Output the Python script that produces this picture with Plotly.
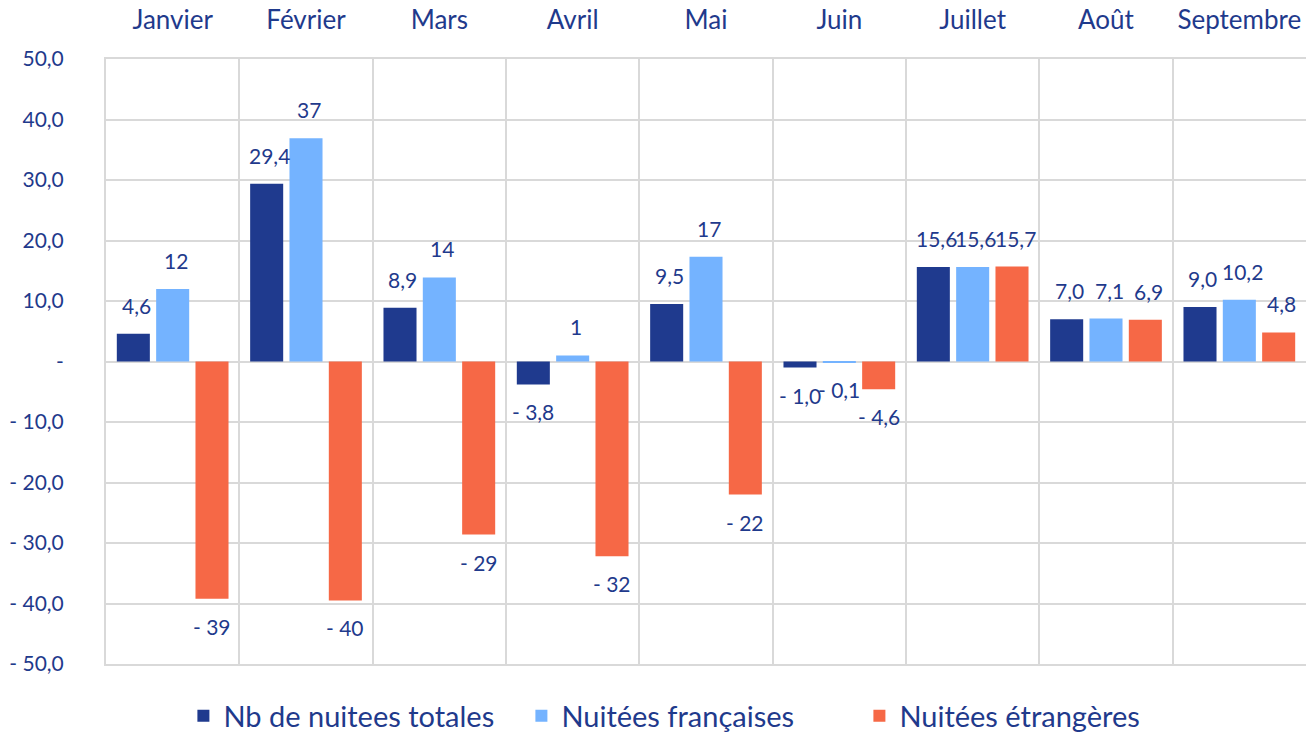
import plotly.graph_objects as go

months = ["Janvier", "Février", "Mars", "Avril", "Mai", "Juin", "Juillet", "Août", "Septembre"]

totales = [4.6, 29.4, 8.9, -3.8, 9.5, -1.0, 15.6, 7.0, 9.0]
totales_lbl = ["4,6", "29,4", "8,9", "- 3,8", "9,5", "- 1,0", "15,6", "7,0", "9,0"]

francaises = [12.0, 36.9, 13.9, 1.0, 17.3, -0.1, 15.6, 7.1, 10.2]
francaises_lbl = ["12", "37", "14", "1", "17", "- 0,1", "15,6", "7,1", "10,2"]

etrangeres = [-39.2, -39.5, -28.6, -32.2, -22.0, -4.6, 15.7, 6.9, 4.8]
etrangeres_lbl = ["- 39", "- 40", "- 29", "- 32", "- 22", "- 4,6", "15,7", "6,9", "4,8"]

y_ticks = [50, 40, 30, 20, 10, 0, -10, -20, -30, -40, -50]
y_ticktext = ["50,0", "40,0", "30,0", "20,0", "10,0", "-", "- 10,0", "- 20,0", "- 30,0", "- 40,0", "- 50,0"]

TXT = "#1F3A8C"
FONT = "Lato"
GRID = "#D9D9D9"

W, H = 1306, 734
ML, MR, MT, MB = 106, 0, 59, 70
BARGAP, BARGROUPGAP = 0.115, 0.16

series = [
    ("Nb de nuitees totales", totales, totales_lbl, "#1F3A8E"),
    ("Nuitées françaises", francaises, francaises_lbl, "#74B3FF"),
    ("Nuitées étrangères", etrangeres, etrangeres_lbl, "#F66846"),
]

fig = go.Figure()
for name, vals, lbls, col in series:
    fig.add_trace(go.Bar(
        x=months, y=vals, name=name,
        marker=dict(color=col, line=dict(width=0)),
        hovertext=lbls, hoverinfo="x+text+name",
    ))

# data labels placed through axis coordinates, shifted to each bar's slot
cat_px = (W - ML - MR) / len(months)
slot_px = cat_px * (1 - BARGAP) / len(series)
for i, (name, vals, lbls, col) in enumerate(series):
    dx = (i - (len(series) - 1) / 2) * slot_px
    for m, v, t in zip(months, vals, lbls):
        pos = v >= 0
        fig.add_annotation(
            x=m, y=v, text=t, showarrow=False,
            xshift=dx + (3 if pos else 0), yshift=14 if pos else -13,
            yanchor="bottom" if pos else "top", xanchor="center",
            font=dict(family=FONT, size=21, color=TXT),
        )

fig.update_layout(
    width=W, height=H,
    margin=dict(l=ML, r=MR, t=MT, b=MB),
    paper_bgcolor="white", plot_bgcolor="white",
    barmode="group", bargap=BARGAP, bargroupgap=BARGROUPGAP,
    hovermode=False,
    font=dict(family=FONT, color=TXT),
    showlegend=True,
    legend=dict(orientation="h", x=0.487, xanchor="center",
                yref="container", y=0.0245, yanchor="middle",
                font=dict(family=FONT, size=29, color=TXT),
                itemwidth=30, tracegroupgap=0,
                entrywidth=293, entrywidthmode="pixels"),
    xaxis=dict(side="top", type="category", tickson="boundaries", automargin=False,
               showgrid=True, gridcolor=GRID, gridwidth=2,
               showline=True, mirror=True, linecolor=GRID, linewidth=2,
               ticks="", ticklabelstandoff=18,
               tickfont=dict(family=FONT, size=26, color=TXT),
               range=[-0.5, 8.5], zeroline=False),
    yaxis=dict(range=[-50, 50], tickvals=y_ticks, ticktext=y_ticktext, automargin=False,
               showgrid=True, gridcolor=GRID, gridwidth=2,
               showline=True, mirror=True, linecolor=GRID, linewidth=2,
               zeroline=True, zerolinecolor=GRID, zerolinewidth=2,
               ticks="outside", ticklen=36, tickcolor="rgba(0,0,0,0)",
               tickfont=dict(family=FONT, size=21, color=TXT)),
)

# remove the browser's default 8px body margin so the figure fills the window exactly
fig.write_html("out.html", config={"displayModeBar": False},
               post_script="document.body.style.margin='0';")
